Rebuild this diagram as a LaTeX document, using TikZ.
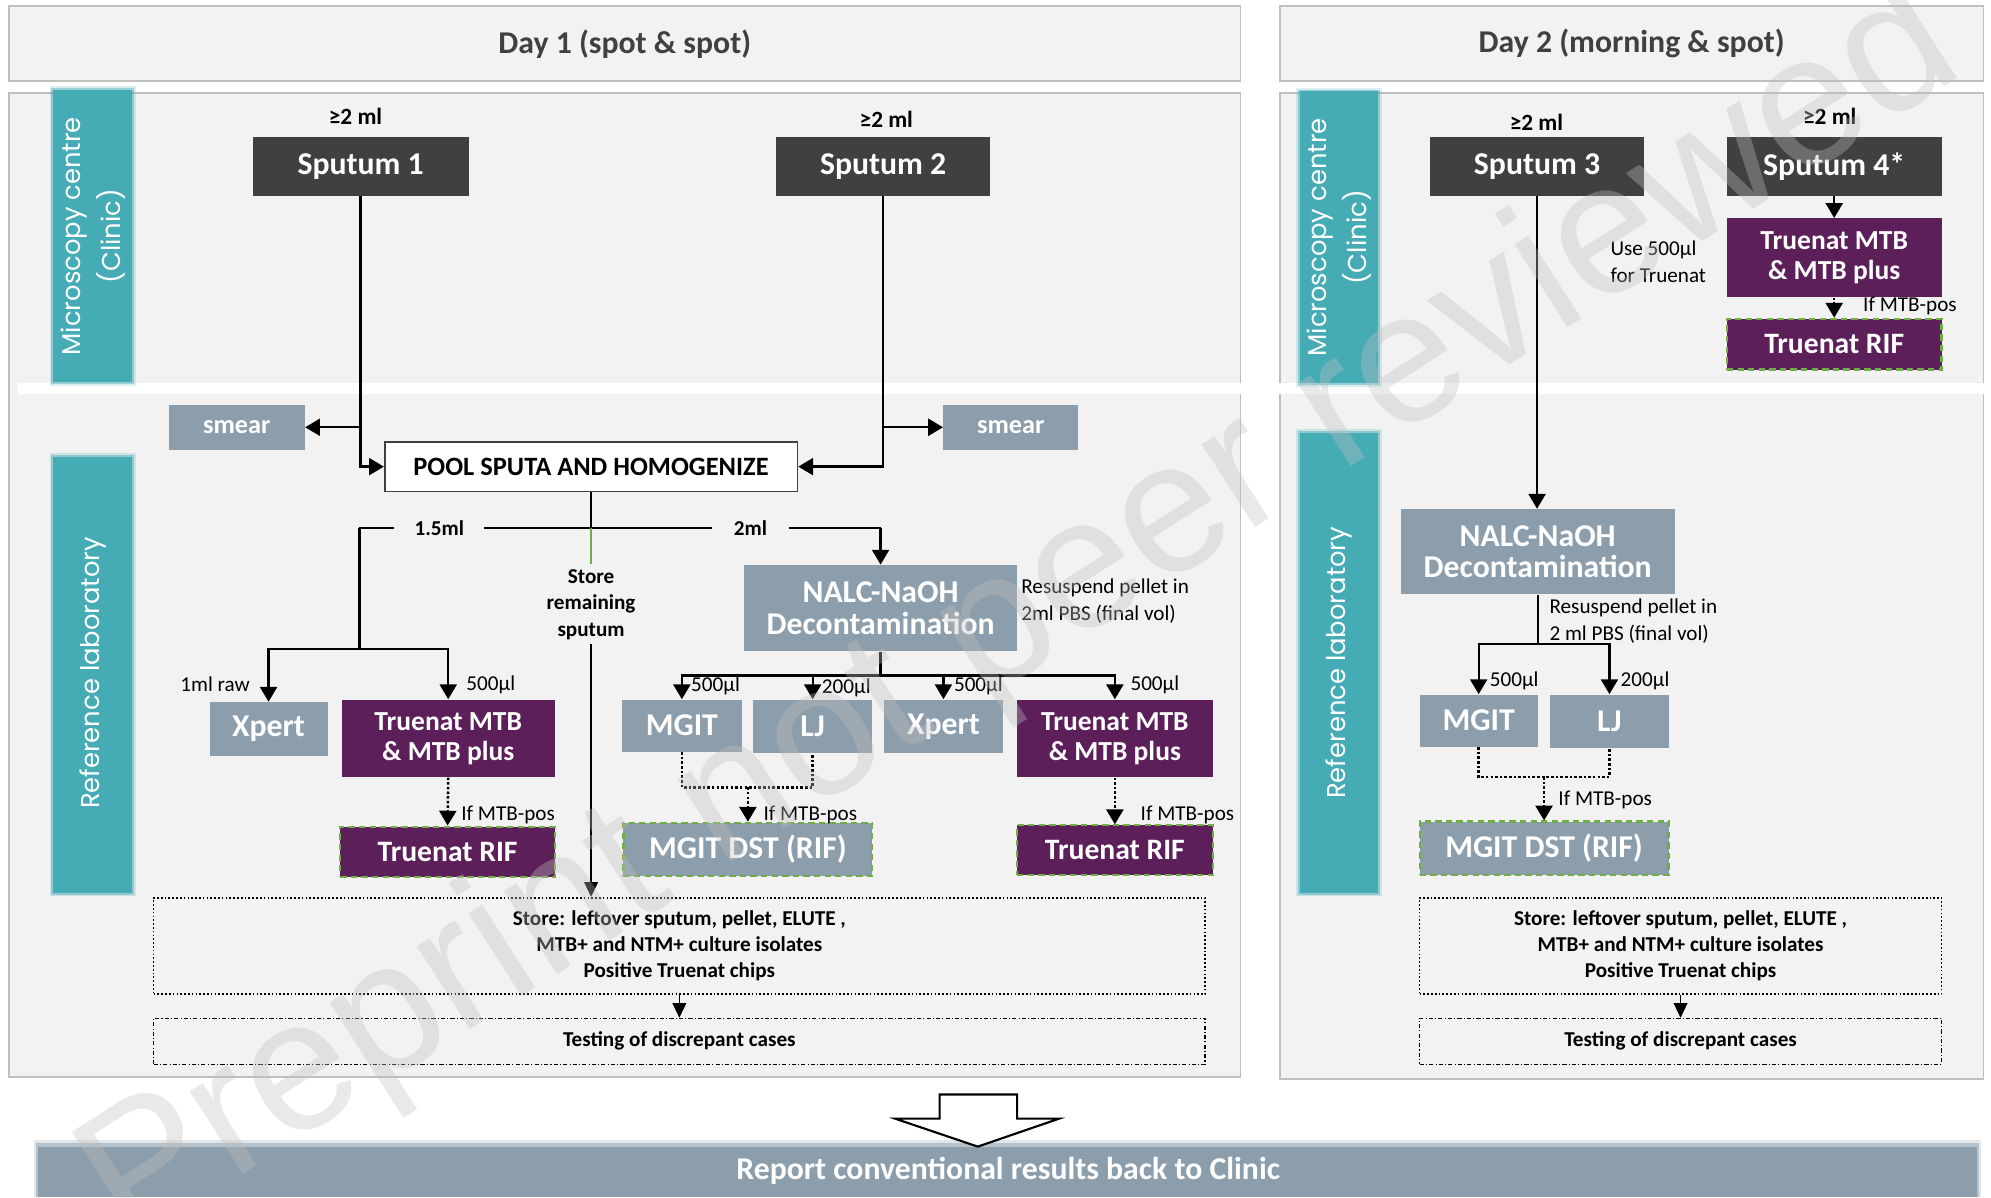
\documentclass[tikz,border=0pt]{standalone}
\usepackage{fontspec}
\setmainfont{Carlito}
\newfontfamily\gothicfont{Poppins}
\newfontfamily\wmfont{Liberation Sans}
\usetikzlibrary{arrows.meta,calc}
\definecolor{panelbg}{HTML}{F2F2F2}
\definecolor{panelline}{HTML}{BFBFBF}
\definecolor{boxgray}{HTML}{8C9DAB}
\definecolor{tpurple}{HTML}{5C1F59}
\definecolor{darkbox}{HTML}{404040}
\definecolor{darktext}{HTML}{404040}
\definecolor{tealc}{HTML}{45ACB6}
\definecolor{dgreen}{HTML}{70AD47}
\definecolor{wmgray}{HTML}{C0C0C0}
\newcommand\fsz[2]{\fontsize{#1}{#2}\selectfont}
\newcommand\softbar[4]{%
  \fill[tealc,opacity=0.2] (#1-3,#2-3) rectangle (#3+3,#4+3);
  \fill[tealc,opacity=0.45] (#1-1.5,#2-1.5) rectangle (#3+1.5,#4+1.5);
  \fill[tealc] (#1,#2) rectangle (#3,#4);}
\begin{document}
\begin{tikzpicture}[x=0.6pt,y=-0.6pt,
  box/.style={draw=none,inner sep=0pt,align=center,text=white},
  sbox/.style={box,fill=boxgray},
  pbox/.style={box,fill=tpurple},
  dbox/.style={box,fill=darkbox,font=\fsz{15pt}{18pt}\bfseries},
  gdash/.style={draw=dgreen,line width=1pt,dash pattern=on 3pt off 2pt},
  hdr/.style={draw=panelline,fill=panelbg,line width=0.8pt,text=darktext,font=\fsz{15pt}{18pt}\bfseries},
  panel/.style={draw=panelline,fill=panelbg,line width=0.8pt},
  ln/.style={line width=1.1pt},
  arr/.style={line width=1.1pt,-{Triangle[width=8pt,length=7pt]}},
  thinarr/.style={line width=0.7pt,-{Triangle[width=6.5pt,length=7pt]}},
  dotln/.style={line width=1.2pt,densely dotted},
  dotarr/.style={line width=1.2pt,densely dotted,-{Triangle[width=8pt,length=7pt]}},
  lbl/.style={inner sep=0pt,font=\fsz{10pt}{12.6pt}},
  lblb/.style={inner sep=0pt,font=\fsz{10pt}{12.6pt}\bfseries},
  mlb/.style={inner sep=0pt,font=\fsz{11pt}{13pt}\bfseries},
  teallbl/.style={rotate=90,text=white,align=center,inner sep=0pt,font=\gothicfont\fsz{12.2pt}{19pt}}
]
\useasboundingbox (0,0) rectangle (1568,943);
\fill[white] (0,0) rectangle (1568,943);

% headers
\node[hdr,minimum width=582pt,minimum height=35.4pt] (hdr1) at (492,34.5) {Day 1 (spot \& spot)};
\node[hdr,minimum width=332.4pt,minimum height=35.4pt] (hdr2) at (1285,34.5) {Day 2 (morning \& spot)};

% panels
\draw[panel] (7,73) rectangle (977,848);
\draw[panel] (1008,73) rectangle (1562,850);
\fill[white] (14,302) rectangle (1563,310);

% teal side bars
\softbar{42}{71}{104}{301}
\softbar{42}{360}{104}{703}
\softbar{1024}{72}{1085}{302}
\softbar{1024}{341}{1085}{703}
\node[teallbl] (mc1) at (73,186) {Microscopy centre\\(Clinic)};
\node[teallbl] (rl1) at (73,530) {Reference laboratory};
\node[teallbl] (mc2) at (1054.5,187) {Microscopy centre\\(Clinic)};
\node[teallbl] (rl2) at (1054.5,522) {Reference laboratory};

% sputum boxes
\node[mlb] (ml1) at (280,92) {≥2 ml};
\node[mlb] (ml2) at (698,94) {≥2 ml};
\node[mlb] (ml3) at (1210,96) {≥2 ml};
\node[mlb] (ml4) at (1441,92) {≥2 ml};
\node[dbox,minimum width=102pt,minimum height=27.6pt] (sp1) at (284,131) {Sputum 1};
\node[dbox,minimum width=101.4pt,minimum height=27.6pt] (sp2) at (695.5,131) {Sputum 2};
\node[dbox,minimum width=101.4pt,minimum height=27.6pt] (sp3) at (1210.5,131) {Sputum 3};
\node[dbox,minimum width=101.4pt,minimum height=27.6pt] (sp4) at (1444.5,131) {Sputum 4*};

% day 2 clinic truenat
\node[pbox,minimum width=101.4pt,minimum height=37.2pt,font=\fsz{13pt}{13.8pt}\bfseries] (tn4) at (1444.5,203) {Truenat MTB\\\& MTB plus};
\node[pbox,gdash,minimum width=101.4pt,minimum height=24pt,font=\fsz{14pt}{16pt}\bfseries] (rif4) at (1444.5,271) {Truenat RIF};
\node[lbl,anchor=west] (ifp4) at (1467,241) {If MTB-pos};
\node[lbl,anchor=west,align=left,font=\fsz{10pt}{13pt}] (use5) at (1268,206) {Use 500µl\\for Truenat};

% smear and pool
\node[sbox,minimum width=64.2pt,minimum height=21pt,font=\fsz{12.4pt}{14pt}\bfseries] (smearL) at (186.5,336.5) {smear};
\node[sbox,minimum width=63.6pt,minimum height=21pt,font=\fsz{12.4pt}{14pt}\bfseries] (smearR) at (796,336.5) {smear};
\node[draw=darkbox,fill=white,line width=0.8pt,inner sep=0pt,minimum width=195pt,minimum height=23.4pt,font=\fsz{12.5pt}{14pt}\bfseries] (pool) at (465.5,367.5) {POOL SPUTA AND HOMOGENIZE};

% day 1 lab
\node[sbox,minimum width=129pt,minimum height=40.8pt,font=\fsz{15pt}{15pt}\bfseries] (nalc1) at (693.5,479) {NALC-NaOH\\Decontamination};
\node[lbl,anchor=west,align=left] (res1) at (804,473.5) {Resuspend pellet in\\2ml PBS (final vol)};
\node[sbox,minimum width=55.8pt,minimum height=25.2pt,font=\fsz{15pt}{16pt}\bfseries] (xpL) at (211.5,574) {Xpert};
\node[pbox,minimum width=100.8pt,minimum height=36.6pt,font=\fsz{13pt}{14.2pt}\bfseries] (tnL) at (353,581.5) {Truenat MTB\\\& MTB plus};
\node[pbox,gdash,minimum width=101.4pt,minimum height=24pt,font=\fsz{14pt}{16pt}\bfseries] (rifL) at (352.5,671) {Truenat RIF};
\node[sbox,minimum width=56.4pt,minimum height=24.6pt,font=\fsz{15pt}{16pt}\bfseries] (mgit1) at (537,571.5) {MGIT};
\node[sbox,minimum width=56.4pt,minimum height=25.2pt,font=\fsz{15pt}{16pt}\bfseries] (lj1) at (640,572) {LJ};
\node[sbox,minimum width=56.4pt,minimum height=25.2pt,font=\fsz{15pt}{16pt}\bfseries] (xpR) at (743,572) {Xpert};
\node[pbox,minimum width=92.4pt,minimum height=36.6pt,font=\fsz{13pt}{14.2pt}\bfseries] (tnR) at (878,581.5) {Truenat MTB\\\& MTB plus};
\node[sbox,gdash,minimum width=117.6pt,minimum height=25.2pt,font=\fsz{15pt}{16pt}\bfseries] (dst1) at (589,669) {MGIT DST (RIF)};
\node[pbox,gdash,minimum width=92.4pt,minimum height=23.4pt,font=\fsz{14pt}{16pt}\bfseries] (rifR) at (878,669.5) {Truenat RIF};

\node[lbl,anchor=east] (raw) at (197,539) {1ml raw};
\node[lbl,anchor=west] (v1) at (367,539) {500µl};
\node[lbl,anchor=west] (v2) at (544,540) {500µl};
\node[lbl,anchor=west] (v3) at (647,542) {200µl};
\node[lbl,anchor=west] (v4) at (751,540) {500µl};
\node[lbl,anchor=west] (v5) at (890,539) {500µl};
\node[lbl,anchor=west] (ifpL) at (363,642) {If MTB-pos};
\node[lbl,anchor=west] (ifpM) at (601,642) {If MTB-pos};
\node[lbl,anchor=west] (ifpR) at (898,642) {If MTB-pos};

\node[lblb,inner xsep=9.3pt] (l15) at (346,416) {1.5ml};
\node[lblb,inner xsep=10pt] (l2) at (591,416) {2ml};
\node[lblb,align=center,inner sep=2pt] (storeTxt) at (465.5,476) {Store\\remaining\\sputum};

% store / testing day 1
\node[draw,densely dotted,line width=0.8pt,inner sep=0pt,minimum width=496.8pt,minimum height=45.6pt,align=center,font=\fsz{10pt}{12.3pt}\bfseries] (store1) at (535,745) {Store: leftover sputum, pellet, ELUTE ,\\MTB+ and NTM+ culture isolates\\Positive Truenat chips};
\node[draw,dash pattern=on 2pt off 1pt on 0.5pt off 1pt,line width=0.5pt,inner sep=0pt,minimum width=496.8pt,minimum height=21.6pt,font=\fsz{10pt}{12pt}\bfseries] (test1) at (535,820) {Testing of discrepant cases};

% day 2 lab
\node[sbox,minimum width=129.6pt,minimum height=40.2pt,font=\fsz{15pt}{15pt}\bfseries] (nalc2) at (1211,434.5) {NALC-NaOH\\Decontamination};
\node[lbl,anchor=west,align=left] (res2) at (1220,489) {Resuspend pellet in\\2 ml PBS (final vol)};
\node[sbox,minimum width=55.8pt,minimum height=24.6pt,font=\fsz{15pt}{16pt}\bfseries] (mgit2) at (1164.5,567.5) {MGIT};
\node[sbox,minimum width=55.8pt,minimum height=25.2pt,font=\fsz{15pt}{16pt}\bfseries] (lj2) at (1267.5,568) {LJ};
\node[sbox,gdash,minimum width=117.6pt,minimum height=25.2pt,font=\fsz{15pt}{16pt}\bfseries] (dst2) at (1216,668) {MGIT DST (RIF)};
\node[lbl,anchor=west] (w1) at (1173,536) {500µl};
\node[lbl,anchor=west] (w2) at (1276,536) {200µl};
\node[lbl,anchor=west] (ifp2) at (1227,630) {If MTB-pos};
\node[draw,densely dotted,line width=0.8pt,inner sep=0pt,minimum width=246.6pt,minimum height=45.6pt,align=center,font=\fsz{10pt}{12.3pt}\bfseries] (store2) at (1323.5,745) {Store: leftover sputum, pellet, ELUTE ,\\MTB+ and NTM+ culture isolates\\Positive Truenat chips};
\node[draw,dash pattern=on 2pt off 1pt on 0.5pt off 1pt,line width=0.5pt,inner sep=0pt,minimum width=246.6pt,minimum height=21.6pt,font=\fsz{10pt}{12pt}\bfseries] (test2) at (1323.5,820) {Testing of discrepant cases};

% connectors day 1
\draw[arr] (sp1.south) |- (pool.west);
\draw[arr] (sp1.south |- smearL.east) -- (smearL.east);
\draw[arr] (sp2.south) |- (pool.east);
\draw[arr] (sp2.south |- smearR.west) -- (smearR.west);
\coordinate (h1) at (283,416);
\coordinate (h2) at (693.5,416);
\coordinate (b1) at (283,511);
\draw[ln] (pool.south) -- (pool.south |- h1);
\draw[ln] (h1) -- (l15.west);
\draw[ln] (l15.east) -- (l2.west);
\draw[ln] (l2.east) -- (h2);
\draw[arr] (h2) -- (nalc1.north);
\draw[ln] (h1) -- (b1);
\draw[arr] (b1) -| (xpL.north);
\draw[arr] (b1) -| (tnL.north);
\draw[dgreen,line width=0.8pt] (pool.south |- h1) -- (storeTxt.north);
\draw[thinarr] (storeTxt.south) -- (storeTxt.south |- store1.north);
\coordinate (b2) at (693.5,532);
\draw[ln] (nalc1.south) -- (b2);
\draw[arr] (b2) -| (mgit1.north);
\draw[arr] (b2) -| (lj1.north);
\draw[arr] (b2) -| (xpR.north);
\draw[arr] (b2) -| (tnR.north);
\coordinate (j1) at (589,620);
\draw[dotln] (mgit1.south) |- (j1) -| (lj1.south);
\draw[dotarr] (j1) -- (dst1.north);
\draw[dotarr] (tnL.south) -- (rifL.north);
\draw[dotarr] (tnR.south) -- (rifR.north);
\draw[thinarr] (store1.south) -- (test1.north);

% connectors day 2
\draw[arr] (sp4.south) -- (tn4.north);
\draw[dotarr] (tn4.south) -- (rif4.north);
\draw[arr] (sp3.south) -- (sp3.south |- nalc2.north);
\coordinate (b3) at (1211,507);
\draw[ln] (nalc2.south) -- (b3);
\draw[arr] (b3) -| (mgit2.north);
\draw[arr] (b3) -| (lj2.north);
\coordinate (j2) at (1216,612);
\draw[dotln] (mgit2.south) |- (j2) -| (lj2.south);
\draw[dotarr] (j2) -- (dst2.north);
\draw[thinarr] (store2.south) -- (test2.north);

% report bar
\fill[boxgray,opacity=0.25] (27,898) rectangle (1560,943);
\fill[boxgray,opacity=0.5] (28.5,900.5) rectangle (1558.5,943);
\fill[boxgray] (30,903) rectangle (1557,943);
\node[text=white,inner sep=0pt,font=\fsz{15pt}{18pt}\bfseries] (report) at (794,922) {Report conventional results back to Clinic};
\draw[line width=1pt,fill=white] (740,862) -- (801,862) -- (801,881) -- (834,881) -- (770,903) -- (705,881) -- (740,881) -- cycle;

% watermark
\node[rotate=32.6,text=wmgray,opacity=0.35,inner sep=0pt,font=\wmfont\fontsize{88pt}{88pt}\selectfont] (wm) at (805,488) {Preprint not peer reviewed};
\end{tikzpicture}
\end{document}
